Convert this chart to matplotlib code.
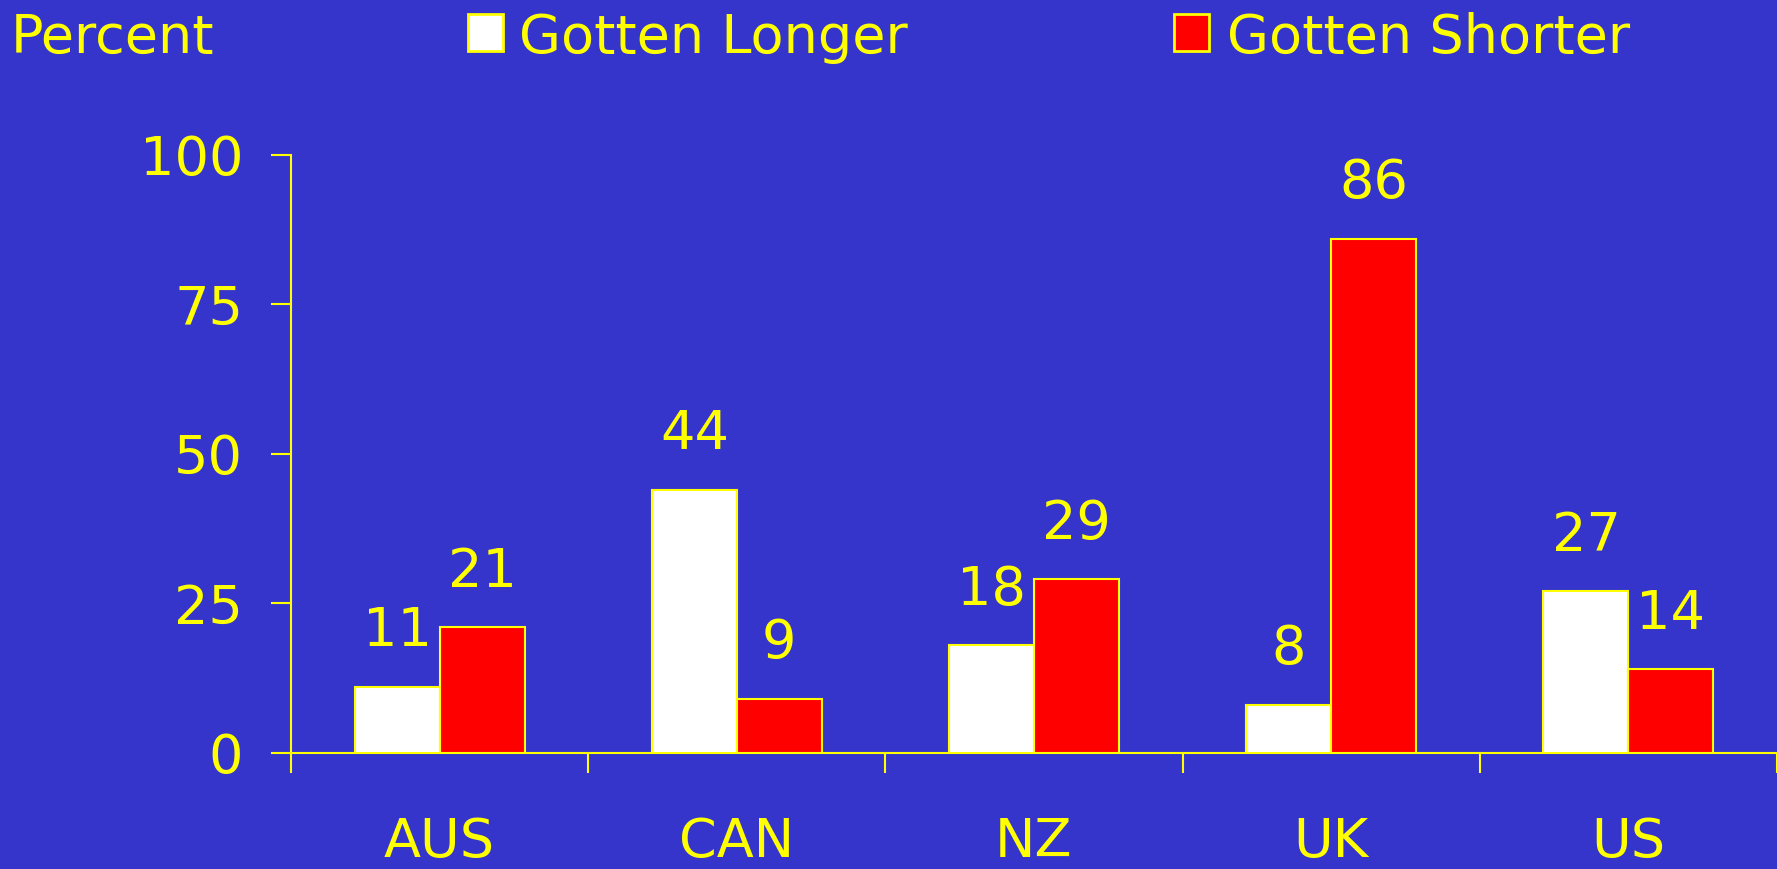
import numpy as np
import matplotlib
matplotlib.use("Agg")
import matplotlib.pyplot as plt
from matplotlib.patches import Rectangle

countries = ["AUS", "CAN", "NZ", "UK", "US"]
gotten_longer = [11, 44, 18, 8, 27]
gotten_shorter = [21, 9, 29, 86, 14]
yticks = [0, 25, 50, 75, 100]

bg = "#3535cc"
fg = "#ffff00"
fs = 39

plt.rcParams["font.family"] = "DejaVu Sans"

fig = plt.figure(figsize=(17.77, 8.69), dpi=100, facecolor=bg)
W, H = 1777.0, 869.0
ax = fig.add_axes([291 / W, (H - 752.5) / H, 1 - 291 / W, (752.5 - 155) / H])
ax.set_facecolor(bg)

x = np.arange(len(countries)) + 0.5
w = 0.2857
b1 = ax.bar(x - w / 2, gotten_longer, w, color="white", edgecolor=fg, linewidth=1.5, zorder=3)
b2 = ax.bar(x + w / 2, gotten_shorter, w, color="red", edgecolor=fg, linewidth=1.5, zorder=3)

# value labels above bars
for bars, vals in [(b1, gotten_longer), (b2, gotten_shorter)]:
    for r, v in zip(bars, vals):
        ax.annotate(str(v), (r.get_x() + r.get_width() / 2, v),
                    xytext=(0, 29), textcoords="offset points",
                    ha="center", va="baseline", color=fg, fontsize=fs,
                    annotation_clip=False)

ax.set_xlim(0, len(countries))
ax.set_ylim(0, 100)

for s in ["top", "right"]:
    ax.spines[s].set_visible(False)
for s in ["left", "bottom"]:
    ax.spines[s].set_color(fg)
    ax.spines[s].set_linewidth(1.5)

ax.set_yticks(yticks)
ax.tick_params(axis="y", direction="out", length=14.4, width=1.5, color=fg,
               labelcolor=fg, labelsize=fs, pad=20)

# ticks at category boundaries, labels at category centres
ax.set_xticks(np.arange(len(countries) + 1))
ax.set_xticklabels([])
ax.set_xticks(x, minor=True)
ax.set_xticklabels(countries, minor=True)
ax.tick_params(axis="x", which="major", direction="out", length=14.4, width=1.5, color=fg)
ax.tick_params(axis="x", which="minor", length=0, labelcolor=fg, labelsize=fs, pad=46)

# header: axis title and legend
base = 1 - 53 / H
fig.text(11 / W, base, "Percent", color=fg, fontsize=fs, va="baseline", ha="left")
fig.add_artist(Rectangle((468 / W, 1 - 51 / H), 35 / W, 37 / H, transform=fig.transFigure,
                         facecolor="white", edgecolor=fg, linewidth=2))
fig.text(519 / W, base, "Gotten Longer", color=fg, fontsize=fs, va="baseline", ha="left")
fig.add_artist(Rectangle((1174 / W, 1 - 51 / H), 35 / W, 37 / H, transform=fig.transFigure,
                         facecolor="red", edgecolor=fg, linewidth=2))
fig.text(1227 / W, base, "Gotten Shorter", color=fg, fontsize=fs, va="baseline", ha="left")

fig.savefig("out.png", dpi=100, facecolor=bg)
